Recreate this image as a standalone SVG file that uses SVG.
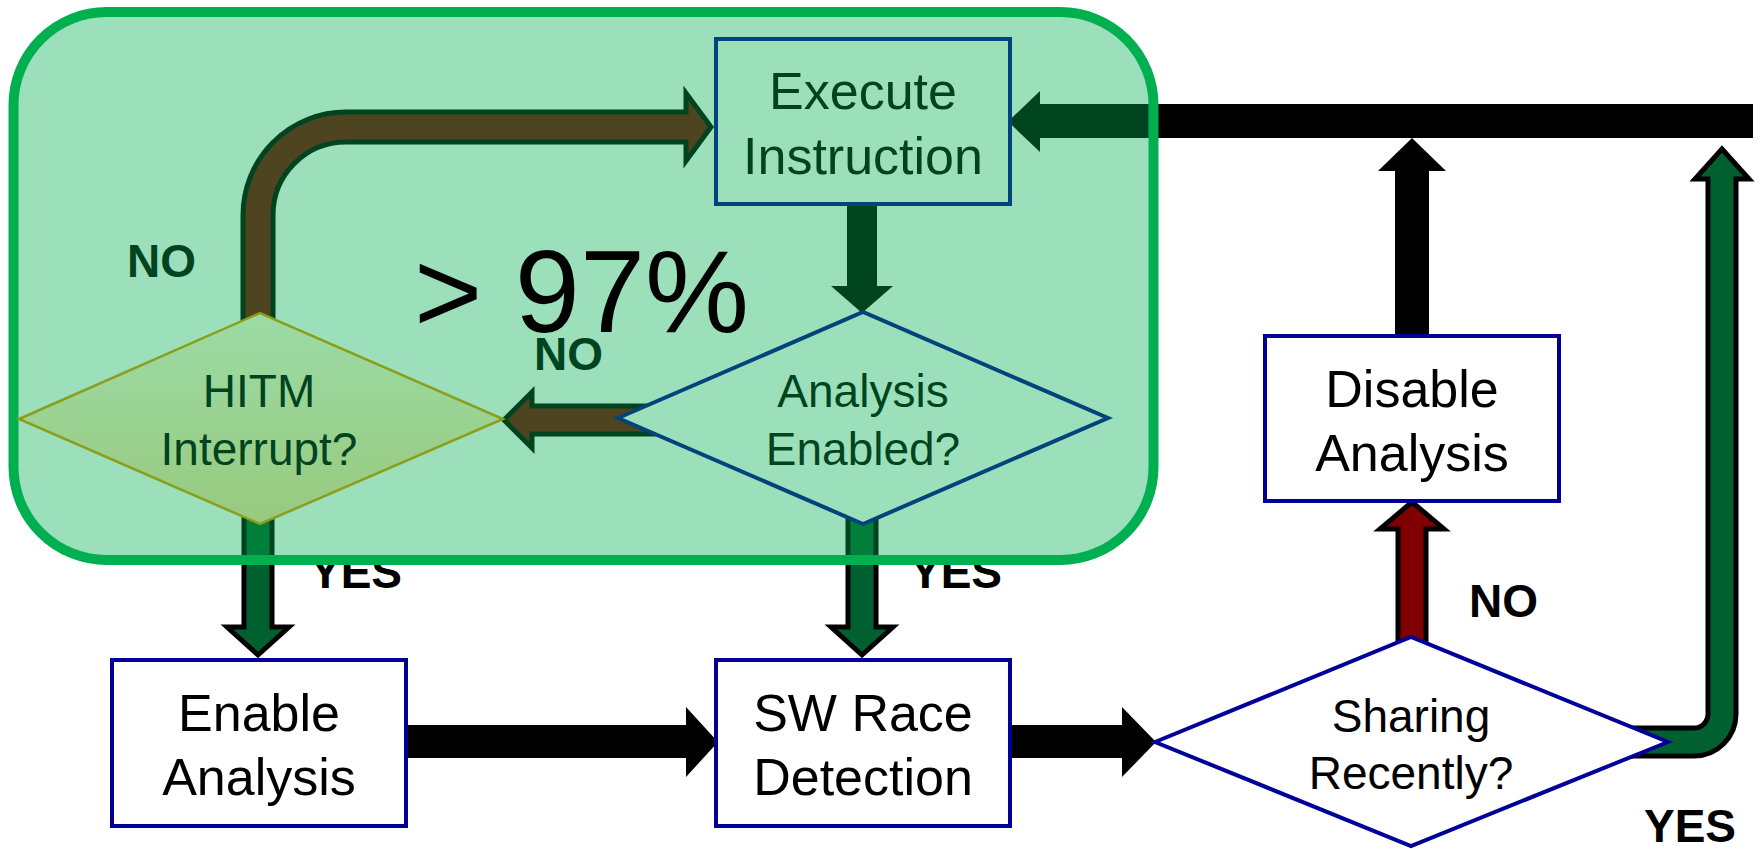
<svg xmlns="http://www.w3.org/2000/svg" width="1760" height="849" viewBox="0 0 1760 849">
<defs>
<style>
text{font-family:"Liberation Sans",Arial,sans-serif;}
.lbl{font-size:52px;fill:#000;text-anchor:middle;}
.dlbl{font-size:46px;fill:#000;text-anchor:middle;}
.tag{font-size:46px;font-weight:bold;fill:#000;}
.box{fill:#fff;stroke:#000099;stroke-width:4;}
.blk{fill:#000;stroke:none;}
.red{fill:#800000;stroke:#000;stroke-width:5;stroke-linejoin:miter;}
.grn{fill:#006030;stroke:#000;stroke-width:5;stroke-linejoin:miter;}
</style>
<linearGradient id="hitmFill" x1="0" y1="0" x2="0" y2="1">
<stop offset="0" stop-color="#9cdba6"/>
<stop offset="1" stop-color="#98ca7e"/>
</linearGradient>
</defs>
<rect width="1760" height="849" fill="#fff"/>

<g id="connectors">
<path class="blk" d="M1753,104 H1040 V91 L1008,121.5 L1040,152 V138 H1753 Z"/>
<path class="red" d="M243,330 V215 A103,103 0 0 1 346,112 H686 V93 L711,127 L686,161 V142 H346 A73,73 0 0 0 273,215 V330 Z"/>
<path class="blk" d="M847,204 V286 H831 L862,313 L893,286 H877 V204 Z"/>
<path class="red" d="M680,406 H532 V392 L504,420 L532,448 V434 H680 Z"/>
<path class="grn" d="M244,470 V627 H227 L258,655 L289,627 H272 V470 Z"/>
<path class="grn" d="M848,470 V627 H831 L862,655 L893,627 H876 V470 Z"/>
<path class="blk" d="M406,725 H686 V707 L718,742 L686,777 V758 H406 Z"/>
<path class="blk" d="M1010,725 H1122 V707 L1156,742 L1122,777 V758 H1010 Z"/>
<path class="red" d="M1398,660 V529 H1380 L1412,502 L1444,529 H1426 V660 Z"/>
<path class="blk" d="M1395,336 V171 H1378 L1412,138 L1446,171 H1429 V336 Z"/>
<path class="grn" d="M1600,728 H1694 A14,14 0 0 0 1708,714 V179 H1695 L1722,149 L1749,179 H1736 V714 A42,42 0 0 1 1694,756 H1600 Z"/>
</g>

<g id="node-execute">
<rect class="box" x="716" y="39" width="294" height="165"/>
<text class="lbl" x="863" y="109">Execute</text>
<text class="lbl" x="863" y="174">Instruction</text>
</g>

<g id="node-analysis-enabled">
<polygon class="box" points="618,418 863,312 1108,418 863,524"/>
<text class="dlbl" x="863" y="407">Analysis</text>
<text class="dlbl" x="863" y="465">Enabled?</text>
</g>

<g id="labels">
<text class="tag" x="127" y="277">NO</text>
<text class="tag" x="534" y="370">NO</text>
<text class="tag" x="310" y="588">YES</text>
<text class="tag" x="910" y="588">YES</text>
<text class="tag" x="1469" y="617">NO</text>
<text class="tag" x="1644" y="842">YES</text>
</g>

<g id="region-hot-path">
<rect x="13.5" y="12" width="1140" height="548" rx="93" ry="93" fill="#00b050" fill-opacity="0.39" stroke="#00b050" stroke-width="10"/>
</g>

<g id="node-hitm">
<polygon points="19,419 260,313 503,419 260,524" fill="url(#hitmFill)" stroke="#8a9e1a" stroke-width="2.5"/>
<text class="dlbl" x="259" y="407" style="fill:#00441f">HITM</text>
<text class="dlbl" x="259" y="465" style="fill:#00441f">Interrupt?</text>
</g>

<g id="note-percent">
<text x="414" y="332" style="font-size:117px;fill:#000">&gt; 97%</text>
</g>

<g id="node-enable">
<rect class="box" x="112" y="660" width="294" height="166"/>
<text class="lbl" x="259" y="731">Enable</text>
<text class="lbl" x="259" y="795">Analysis</text>
</g>

<g id="node-sw-race">
<rect class="box" x="716" y="660" width="294" height="166"/>
<text class="lbl" x="863" y="731">SW Race</text>
<text class="lbl" x="863" y="795">Detection</text>
</g>

<g id="node-sharing">
<polygon class="box" points="1155,742 1411,637 1668,742 1411,846"/>
<text class="dlbl" x="1411" y="732">Sharing</text>
<text class="dlbl" x="1411" y="789">Recently?</text>
</g>

<g id="node-disable">
<rect class="box" x="1265" y="336" width="294" height="165"/>
<text class="lbl" x="1412" y="407">Disable</text>
<text class="lbl" x="1412" y="471">Analysis</text>
</g>
</svg>
